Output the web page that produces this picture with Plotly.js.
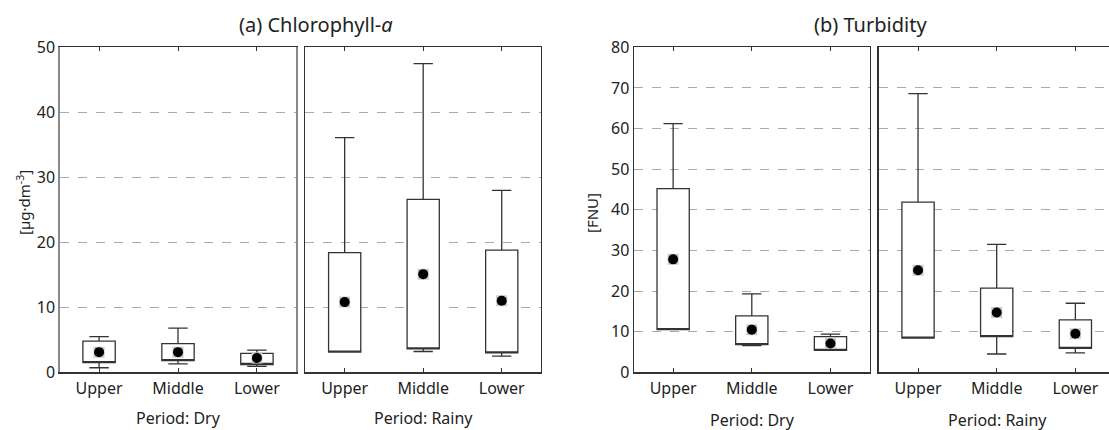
<!DOCTYPE html>
<html>
<head>
<meta charset="utf-8">
<script src="https://cdn.plot.ly/plotly-3.0.1.min.js"></script>
<style>html,body{margin:0;padding:0;background:#fff;}#chart{width:1109px;height:430px;}</style>
</head>
<body>
<div id="chart"></div>
<script>
const sites = ['Upper', 'Middle', 'Lower'];

// (a) Chlorophyll-a [µg·dm-3]
const chlDryMean   = [3.1, 3.1, 2.2];
const chlDryQ1     = [1.5, 1.8, 1.2];
const chlDryQ3     = [4.8, 4.4, 2.9];
const chlDryMin    = [0.7, 1.3, 0.9];
const chlDryMax    = [5.5, 6.8, 3.4];

const chlRainyMean = [10.8, 15.1, 11.0];
const chlRainyQ1   = [3.1, 3.6, 3.0];
const chlRainyQ3   = [18.4, 26.6, 18.8];
const chlRainyMin  = [3.1, 3.2, 2.5];
const chlRainyMax  = [36.1, 47.5, 28.0];

// (b) Turbidity [FNU]
const turDryMean   = [27.8, 10.5, 7.1];
const turDryQ1     = [10.5, 6.8, 5.4];
const turDryQ3     = [45.2, 13.9, 8.8];
const turDryMin    = [10.5, 6.6, 5.4];
const turDryMax    = [61.2, 19.3, 9.4];

const turRainyMean = [25.1, 14.7, 9.5];
const turRainyQ1   = [8.4, 8.8, 5.9];
const turRainyQ3   = [41.9, 20.7, 12.9];
const turRainyMin  = [8.4, 4.5, 4.8];
const turRainyMax  = [68.6, 31.5, 17.0];

const W = 1109, H = 430;
const FONT = 'Noto Sans, Open Sans, sans-serif';
const LINE = '#333';

function boxTrace(q1, q3, lo, hi, xa, ya) {
  return {
    type: 'box', x: sites, q1: q1, median: q1, q3: q3,
    lowerfence: lo, upperfence: hi,
    xaxis: xa, yaxis: ya, width: 0.41, whiskerwidth: 0.6,
    fillcolor: '#fff', line: {color: LINE, width: 1.3},
    boxpoints: false, hoverinfo: 'skip', showlegend: false
  };
}
function meanTraces(m, xa, ya) {
  return [
    {type: 'scatter', mode: 'markers', x: sites, y: m, xaxis: xa, yaxis: ya,
     marker: {symbol: 'square', size: 11, color: '#c9c9c9'}, hoverinfo: 'skip', showlegend: false},
    {type: 'scatter', mode: 'markers', x: sites, y: m, xaxis: xa, yaxis: ya,
     marker: {symbol: 'circle', size: 10, color: '#000'}, hoverinfo: 'skip', showlegend: false}
  ];
}

const data = [
  boxTrace(chlDryQ1, chlDryQ3, chlDryMin, chlDryMax, 'x', 'y'),
  ...meanTraces(chlDryMean, 'x', 'y'),
  boxTrace(chlRainyQ1, chlRainyQ3, chlRainyMin, chlRainyMax, 'x2', 'y2'),
  ...meanTraces(chlRainyMean, 'x2', 'y2'),
  boxTrace(turDryQ1, turDryQ3, turDryMin, turDryMax, 'x3', 'y3'),
  ...meanTraces(turDryMean, 'x3', 'y3'),
  boxTrace(turRainyQ1, turRainyQ3, turRainyMin, turRainyMax, 'x4', 'y4'),
  ...meanTraces(turRainyMean, 'x4', 'y4')
];

const px = v => v / W;
const yDom = [1 - 372.3 / H, 1 - 47.3 / H];

function xAxis(d0, d1, anchor, r1) {
  return {
    domain: [px(d0), px(d1)], anchor: anchor, type: 'category',
    categoryorder: 'array', categoryarray: sites,
    range: [-0.5, r1], showline: true, linecolor: LINE, linewidth: 1.3,
    mirror: 'ticks', ticks: 'inside', ticklen: 4, tickcolor: LINE,
    showgrid: false, zeroline: false, fixedrange: true,
    tickfont: {family: FONT, size: 16, color: '#222'}, ticklabelstandoff: 1
  };
}
function yAxis(anchor, maxv, labels, mirror, lc) {
  return {
    domain: yDom, anchor: anchor, range: [0, maxv], dtick: 10,
    showline: true, linecolor: lc || LINE, linewidth: 1.3, mirror: mirror,
    ticks: '', showticklabels: labels, showgrid: true,
    gridcolor: '#aaa', griddash: 'dash', gridwidth: 1, zeroline: false, fixedrange: true,
    tickfont: {family: FONT, size: 16, color: '#222'}
  };
}

const ann = (x, y, text, size, extra) => Object.assign({
  xref: 'paper', yref: 'paper', x: px(x), y: 1 - y / H, text: text, showarrow: false,
  xanchor: 'center', yanchor: 'middle', font: {family: FONT, size: size, color: '#222'}
}, extra || {});

const layout = {
  width: W, height: H, margin: {l: 0, r: 0, t: 0, b: 0},
  paper_bgcolor: '#fff', plot_bgcolor: '#fff', showlegend: false,
  xaxis: xAxis(59.6, 296.4, 'y', 2.5),
  yaxis: yAxis('x', 50, true, true, '#888'),
  xaxis2: xAxis(305.4, 541, 'y2', 2.5),
  yaxis2: yAxis('x2', 50, false, true),
  xaxis3: xAxis(633.8, 869.8, 'y3', 2.5),
  yaxis3: yAxis('x3', 80, true, true),
  xaxis4: xAxis(878.7, 1109, 'y4', -0.5 + 3 * (230.3 / 236)),
  yaxis4: yAxis('x4', 80, false, false),
  annotations: [
    ann(316, 24, '(a) Chlorophyll-<i>a</i>', 20),
    ann(870, 24, '(b) Turbidity', 20),
    ann(23, 203, '[µg·dm<sup>-3</sup>]', 15, {textangle: -90}),
    ann(592, 213, '[FNU]', 15, {textangle: -90}),
    ann(178, 418, 'Period: Dry', 16),
    ann(423, 418, 'Period: Rainy', 16),
    ann(752, 420, 'Period: Dry', 16),
    ann(997, 420, 'Period: Rainy', 16)
  ]
};

Plotly.newPlot('chart', data, layout, {displayModeBar: false, staticPlot: true});
</script>
</body>
</html>
